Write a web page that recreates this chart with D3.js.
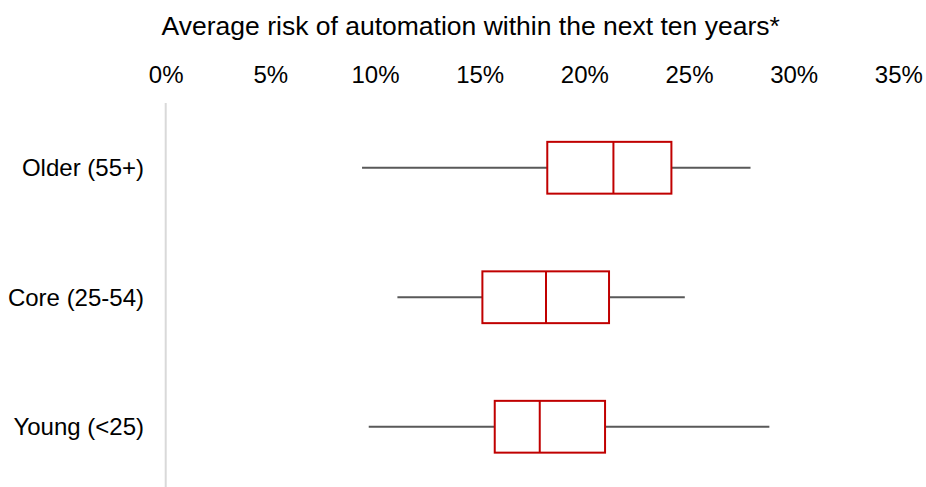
<!DOCTYPE html>
<html>
<head>
<meta charset="utf-8">
<script src="https://cdn.jsdelivr.net/npm/d3@7"></script>
<style>
  html, body { margin: 0; padding: 0; background: #fff; }
  svg { display: block; font-family: Arial, "Liberation Sans", sans-serif; }
</style>
</head>
<body>
<svg id="chart" width="926" height="487"></svg>
<script>
const categories = ["Older (55+)", "Core (25-54)", "Young (<25)"];
const minValues    = [9.38, 11.07, 9.70];
const q1Values     = [18.23, 15.13, 15.72];
const medianValues = [21.39, 18.17, 17.87];
const q3Values     = [24.16, 21.18, 20.99];
const maxValues    = [27.94, 24.80, 28.84];
const tickValues   = [0, 5, 10, 15, 20, 25, 30, 35];
const title = "Average risk of automation within the next ten years*";

const rows = categories.map((c, i) => ({
  cat: c, min: minValues[i], q1: q1Values[i], med: medianValues[i], q3: q3Values[i], max: maxValues[i]
}));

const svg = d3.select("#chart");
const x = d3.scaleLinear().domain([0, 35]).range([165.7, 898.3]);
const y = d3.scaleBand().domain(categories).range([103, 491.5]).padding(0);
const boxH = y.bandwidth() * 0.4;

// Title
svg.append("text")
  .attr("x", 470.7).attr("y", 35)
  .attr("text-anchor", "middle")
  .attr("font-size", "26.5px")
  .attr("fill", "#000")
  .text(title);

// Top axis
const xAxis = d3.axisTop(x).tickValues(tickValues).tickSize(0).tickPadding(0)
  .tickFormat(d => d + "%");
const gx = svg.append("g").attr("transform", "translate(0,83)").call(xAxis);
gx.select(".domain").remove();
gx.selectAll("text").attr("font-size", "24px").attr("fill", "#000")
  .attr("font-family", "Arial, 'Liberation Sans', sans-serif");

// Vertical axis line
svg.append("line")
  .attr("x1", x(0)).attr("x2", x(0))
  .attr("y1", 103).attr("y2", 487)
  .attr("stroke", "#d9d9d9").attr("stroke-width", 2);

// Category labels
svg.append("g").selectAll("text").data(categories).join("text")
  .attr("x", 144).attr("y", d => y(d) + y.bandwidth() / 2)
  .attr("dy", "0.35em")
  .attr("text-anchor", "end")
  .attr("font-size", "24px")
  .attr("fill", "#000")
  .text(d => d);

const g = svg.append("g").selectAll("g").data(rows).join("g")
  .attr("transform", d => `translate(0,${y(d.cat) + y.bandwidth() / 2})`);

// Whiskers
g.append("line")
  .attr("x1", d => x(d.min)).attr("x2", d => x(d.q1))
  .attr("y1", 0).attr("y2", 0)
  .attr("stroke", "#595959").attr("stroke-width", 2);
g.append("line")
  .attr("x1", d => x(d.q3)).attr("x2", d => x(d.max))
  .attr("y1", 0).attr("y2", 0)
  .attr("stroke", "#595959").attr("stroke-width", 2);

// Boxes
g.append("rect")
  .attr("x", d => x(d.q1)).attr("width", d => x(d.q3) - x(d.q1))
  .attr("y", -boxH / 2).attr("height", boxH)
  .attr("fill", "#fff").attr("stroke", "#c00000").attr("stroke-width", 2);
g.append("line")
  .attr("x1", d => x(d.med)).attr("x2", d => x(d.med))
  .attr("y1", -boxH / 2).attr("y2", boxH / 2)
  .attr("stroke", "#c00000").attr("stroke-width", 2);
</script>
</body>
</html>
